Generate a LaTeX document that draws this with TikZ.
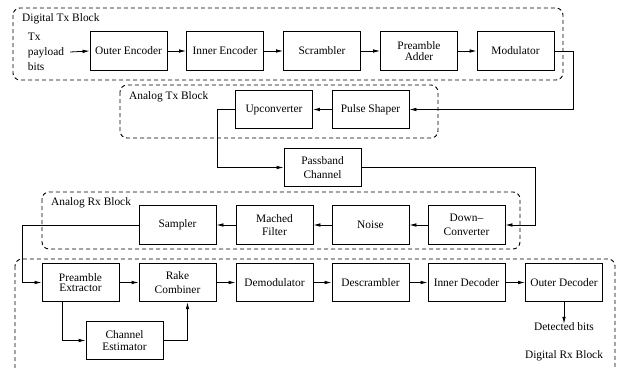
\documentclass[tikz,border=0pt]{standalone}
\usepackage{fontspec}
\setmainfont{Liberation Serif}
\usetikzlibrary{arrows.meta}

\tikzset{
  blk/.style={draw,line width=0.8pt,minimum width=77pt,minimum height=38.5pt,align=center,inner sep=1pt},
  grp/.style={draw,line width=0.9pt,dash pattern=on 4pt off 3pt,rounded corners=7pt},
  wire/.style={->,line width=0.8pt},
  tight/.style={font=\fontsize{11.4}{10.5}\selectfont}
}

\begin{document}
\begin{tikzpicture}[>={Latex[length=7pt,width=3.6pt]},x=1pt,y=-1pt,font=\fontsize{11.4}{13.5}\selectfont]
	\useasboundingbox (0,0) rectangle (618,367);

	% dashed groups
	\draw [grp] (13,8) rectangle (563,80);
	\node [anchor=west,inner sep=0pt] (dtxlbl) at (22,19) {Digital Tx Block};
	\draw [grp] (120,85) rectangle (438,138);
	\node [anchor=west,inner sep=0pt] (atxlbl) at (129,97) {Analog Tx Block};
	\draw [grp] (42,192) rectangle (520,249);
	\node [anchor=west,inner sep=0pt] (arxlbl) at (51,203) {Analog Rx Block};
	\draw [grp] (15,259) rectangle (615,380);
	\node [inner sep=0pt] (drxlbl) at (564,356) {Digital Rx Block};

	% digital tx
	\node [align=left,inner sep=0pt,font=\fontsize{11.4}{15}\selectfont] (txin) at (46,52) {Tx\\payload\\bits};
	\node [blk] (outenc) at (128.5,51) {Outer Encoder};
	\node [blk] (inenc) at (225,51) {Inner Encoder};
	\node [blk] (scram) at (322,51) {Scrambler};
	\node [blk,tight] (preadd) at (419,51) {Preamble\\Adder};
	\node [blk] (mod) at (515.5,51) {Modulator};

	% analog tx and channel
	\node [blk] (pulse) at (370.5,109.5) {Pulse Shaper};
	\node [blk] (upconv) at (274,109.5) {Upconverter};
	\node [blk] (passband) at (322.5,167.5) {Passband\\Channel};

	% analog rx
	\node [blk] (downconv) at (466.5,225) {Down--\\Converter};
	\node [blk] (noise) at (370.5,225) {Noise};
	\node [blk] (mached) at (274.5,225) {Mached\\Filter};
	\node [blk] (sampler) at (177.5,225) {Sampler};

	% digital rx
	\node [blk,tight] (preext) at (80.5,282.5) {Preamble\\Extractor};
	\node [blk] (rake) at (177.5,282.5) {Rake\\Combiner};
	\node [blk] (demod) at (274.5,282.5) {Demodulator};
	\node [blk] (descram) at (370.5,282.5) {Descrambler};
	\node [blk] (indec) at (466.5,282.5) {Inner Decoder};
	\node [blk] (outdec) at (564,282.5) {Outer Decoder};
	\node [blk,font=\fontsize{11.4}{11.5}\selectfont] (chest) at (124.5,340.5) {Channel\\Estimator};
	\node [inner sep=0pt] (detbits) at (564,327) {Detected bits};

	% connectors
	\draw [wire] ([xshift=6pt]txin.east) -- (outenc.west);
	\draw [wire] (outenc) -- (inenc);
	\draw [wire] (inenc) -- (scram);
	\draw [wire] (scram) -- (preadd);
	\draw [wire] (preadd) -- (mod);
	\draw [wire] (mod.east) -- ++(19,0) |- (pulse.east);
	\draw [wire] (pulse) -- (upconv);
	\draw [wire] (upconv.west) -- ++(-18,0) |- (passband.west);
	\draw [wire] (passband.east) -- ++(174,0) |- (downconv.east);
	\draw [wire] (downconv) -- (noise);
	\draw [wire] (noise) -- (mached);
	\draw [wire] (mached) -- (sampler);
	\draw [wire] (sampler.west) -- ++(-116,0) |- (preext.west);
	\draw [wire] (preext) -- (rake);
	\draw [wire] (rake) -- (demod);
	\draw [wire] (demod) -- (descram);
	\draw [wire] (descram) -- (indec);
	\draw [wire] (indec) -- (outdec);
	\draw [wire] ([xshift=-18pt]preext.south) |- (chest.west);
	\draw [wire] (chest.east) -| ([xshift=10pt]rake.south);
	\draw [wire] (outdec.south) -- ([yshift=-1pt]detbits.north);
\end{tikzpicture}
\end{document}
